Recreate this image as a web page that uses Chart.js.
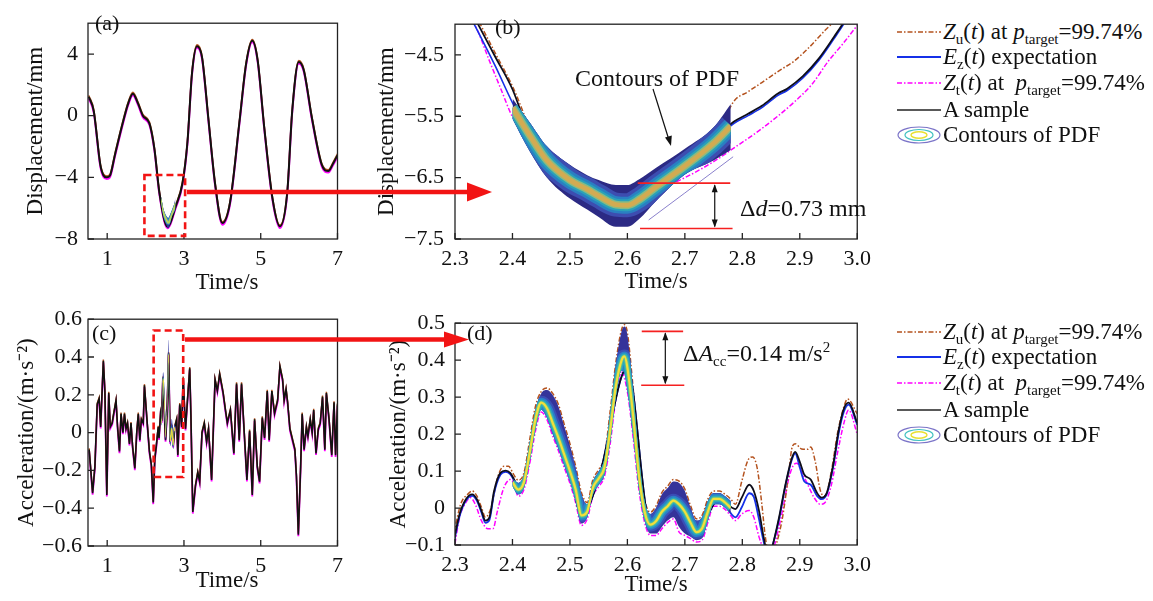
<!DOCTYPE html>
<html>
<head>
<meta charset="utf-8">
<script src="https://cdn.jsdelivr.net/npm/chart.js@4.4.1/dist/chart.umd.min.js"></script>
<style>
body { margin: 0; background: #fff; font-family: "Liberation Serif", "Times New Roman", serif; }
#page { position: relative; width: 1153px; height: 601px; overflow: hidden; background: #fff; }
canvas { position: absolute; }
.t { position: absolute; color: #111; white-space: nowrap; line-height: 26px; font-size: 24px; }
.t sub { font-size: 15px; vertical-align: -5px; line-height: 0; }
.t sup { font-size: 15px; vertical-align: 9px; line-height: 0; }
.xt { position: absolute; color: #111; white-space: nowrap; line-height: 26px; font-size: 23px; transform: translateX(-50%); }
.lg { position: absolute; left: 895px; height: 26px; width: 258px; }
.lg svg { position: absolute; left: 0; top: 0; }
.lg span { position: absolute; left: 48px; top: 0; font-size: 23px; line-height: 26px; color: #111; white-space: nowrap; }
.lg sub { font-size: 15px; vertical-align: -5px; line-height: 0; }
#over { position: absolute; left: 0; top: 0; pointer-events: none; }
</style>
</head>
<body>
<div id="page">
  <canvas id="ca" width="350" height="296" style="left:0;top:0"></canvas>
  <canvas id="cb" width="506" height="296" style="left:372px;top:0"></canvas>
  <canvas id="cc" width="350" height="294" style="left:0;top:300px"></canvas>
  <canvas id="cd" width="506" height="299" style="left:372px;top:300px"></canvas>

  <div class="xt" style="left:227px;top:269px">Time/s</div>
  <div class="xt" style="left:227px;top:567px">Time/s</div>

  <div class="t" style="left:95px;top:10px;font-size:22px">(a)</div>
  <div class="t" style="left:495px;top:14px;font-size:22px">(b)</div>
  <div class="t" style="left:92px;top:320px;font-size:22px">(c)</div>
  <div class="t" style="left:467px;top:320px;font-size:22px">(d)</div>
  <div class="t" style="left:575px;top:65px">Contours of PDF</div>
  <div class="t" style="left:740px;top:195px">Δ<i>d</i>=0.73 mm</div>
  <div class="t" style="left:683px;top:340px">Δ<i>A</i><sub>cc</sub>=0.14 m/s<sup>2</sup></div>

  <div id="legends"></div>

  <svg id="over" width="1153" height="601">
    <line x1="187" y1="192" x2="469" y2="192" stroke="#f21414" stroke-width="4.5"/>
    <polygon points="467,182.5 492,192 467,201.5" fill="#f21414"/>
    <line x1="185" y1="339.5" x2="446" y2="339.5" stroke="#f21414" stroke-width="4.5"/>
    <polygon points="444,331.5 469,339.5 444,347.5" fill="#f21414"/>
    <line x1="653" y1="89" x2="669" y2="140" stroke="#111" stroke-width="1.2"/>
    <polygon points="671,146 665,137.5 671.8,135.6" fill="#111"/>
  </svg>
</div>

<script>
// panel (a): displacement, whole record
const aTicksX = [1, 3, 5, 7];
const aTicksY = [-8, -4, 0, 4];
const aTime = [0.52,0.65,0.82,0.90,0.99,1.07,1.20,1.38,1.55,1.67,1.80,1.93,2.10,2.23,2.36,2.57,2.79,2.96,3.09,3.21,3.34,3.47,3.64,3.81,4.00,4.20,4.45,4.62,4.78,4.92,5.09,5.31,5.50,5.69,5.82,5.99,6.12,6.33,6.59,6.76,6.89,7.00];
const aSample = [1.23,0.30,-3.18,-3.86,-4.00,-3.90,-2.56,-0.72,0.82,1.43,0.82,0.00,-0.50,-2.15,-5.00,-7.20,-5.85,-4.40,-1.74,2.77,4.51,3.80,-0.30,-4.40,-6.97,-5.64,-0.30,3.38,4.86,3.59,-0.72,-5.43,-7.18,-5.00,0.30,3.49,2.97,-0.10,-3.18,-3.59,-3.08,-2.56];

// panel (b): displacement, 2.3-3.0 s
const bTicksX = [2.3, 2.4, 2.5, 2.6, 2.7, 2.8, 2.9, 3.0];
const bTicksY = [-7.5, -6.5, -5.5, -4.5];
const bSampleT = [2.30,2.34,2.37,2.40,2.43,2.46,2.50,2.55,2.58,2.62,2.70,2.785,2.81,2.834,2.862,2.878,2.905,2.933,2.96,2.975,2.99];
const bSample = [-3.30,-4.00,-4.53,-5.06,-5.80,-6.22,-6.54,-6.80,-6.94,-6.86,-6.31,-5.59,-5.46,-5.33,-5.13,-5.05,-4.85,-4.56,-4.20,-3.99,-3.75];
const bMean = [-3.40,-4.12,-4.68,-5.28,-5.81,-6.22,-6.54,-6.80,-6.94,-6.86,-6.31,-5.62,-5.49,-5.36,-5.16,-5.08,-4.88,-4.59,-4.23,-4.02,-3.78];
const bUpperT = [2.30,2.344,2.37,2.40,2.45,2.55,2.65,2.75,2.785,2.81,2.834,2.867,2.889,2.916,2.944,2.955,2.97];
const bUpper = [-3.20,-4.00,-4.47,-5.01,-6.10,-6.80,-6.65,-5.94,-5.26,-5.10,-4.95,-4.74,-4.61,-4.38,-4.10,-4.00,-3.85];
const bLowerT = [2.30,2.333,2.36,2.38,2.40,2.45,2.55,2.65,2.70,2.75,2.785,2.834,2.889,2.922,2.949,2.974,3.00];
const bLower = [-3.75,-3.99,-4.60,-5.06,-5.51,-6.15,-6.80,-6.70,-6.50,-6.24,-6.02,-5.70,-5.28,-4.97,-4.61,-4.33,-4.02];
const bFaintT = [2.637, 2.70, 2.784];
const bFaint = [-7.19, -6.75, -6.16];
// PDF band of displacement (outer contour top/bottom and ridge)
const bandT = [2.40,2.43,2.46,2.50,2.53,2.55,2.58,2.60,2.62,2.65,2.70,2.75,2.78];
const bandUp = [-5.21,-5.60,-5.99,-6.29,-6.46,-6.54,-6.62,-6.62,-6.53,-6.34,-6.03,-5.68,-5.30];
const bandLow = [-5.54,-6.07,-6.50,-6.84,-7.02,-7.14,-7.30,-7.30,-7.18,-6.88,-6.45,-6.22,-6.05];
const bandMid = [-5.36,-5.81,-6.22,-6.54,-6.69,-6.80,-6.94,-6.95,-6.86,-6.65,-6.31,-5.94,-5.66];

// panel (c): acceleration, whole record
const cTicksX = [1, 3, 5, 7];
const cTicksY = [-0.6, -0.4, -0.2, 0, 0.2, 0.4, 0.6];
const cTime = [0.53,0.62,0.68,0.74,0.79,0.83,0.90,0.94,0.99,1.04,1.08,1.13,1.17,1.23,1.27,1.32,1.36,1.41,1.45,1.49,1.53,1.58,1.62,1.66,1.72,1.77,1.81,1.85,1.89,1.94,1.97,2.05,2.10,2.15,2.20,2.24,2.28,2.33,2.35,2.39,2.42,2.45,2.52,2.56,2.60,2.64,2.68,2.72,2.76,2.81,2.84,2.89,2.94,2.98,3.04,3.15,3.18,3.23,3.30,3.36,3.41,3.47,3.53,3.59,3.64,3.72,3.81,3.87,3.93,4.02,4.08,4.13,4.21,4.30,4.37,4.44,4.50,4.57,4.64,4.71,4.78,4.84,4.91,4.97,5.04,5.10,5.17,5.22,5.29,5.36,5.44,5.50,5.57,5.61,5.66,5.70,5.76,5.83,5.89,5.93,5.98,6.04,6.08,6.13,6.19,6.23,6.29,6.34,6.38,6.44,6.50,6.55,6.61,6.67,6.71,6.78,6.85,6.91,6.95,7.00];
const cSample = [-0.09,-0.32,-0.18,0.15,0.18,0.03,0.38,0.22,-0.33,0.21,0.03,0.05,0.10,0.17,0.03,-0.10,0.10,0.00,0.10,0.02,0.05,-0.06,0.05,-0.07,-0.19,0.00,0.10,-0.04,0.07,0.05,0.25,0.03,-0.10,-0.17,-0.37,-0.14,-0.07,0.03,-0.03,0.10,0.06,0.29,-0.04,0.10,0.42,-0.05,0.04,-0.07,0.03,0.07,-0.12,0.15,0.03,0.29,0.02,0.34,0.10,-0.42,-0.28,-0.21,-0.26,0.00,0.05,-0.05,0.02,-0.25,0.28,0.22,0.31,0.21,0.12,0.05,0.12,-0.11,0.26,-0.04,0.26,0.00,-0.25,0.01,-0.33,0.07,-0.18,-0.26,0.08,-0.03,0.22,-0.04,0.22,0.10,0.17,0.35,0.28,0.17,0.23,0.16,0.02,-0.04,-0.09,-0.23,-0.54,-0.18,0.10,-0.09,0.03,-0.02,0.07,0.00,0.12,-0.11,0.02,0.05,0.19,-0.09,0.21,0.07,-0.12,0.16,-0.12,0.15];

// panel (d): acceleration, 2.3-3.0 s
const dTicksX = [2.3, 2.4, 2.5, 2.6, 2.7, 2.8, 2.9, 3.0];
const dTicksY = [-0.1, 0, 0.1, 0.2, 0.3, 0.4, 0.5];
const dSampleT = [2.298,2.308,2.319,2.33,2.338,2.346,2.353,2.36,2.368,2.379,2.388,2.396,2.405,2.41,2.42,2.45,2.50,2.52,2.55,2.60,2.64,2.68,2.72,2.76,2.788,2.799,2.812,2.82,2.829,2.837,2.846,2.853,2.864,2.875,2.886,2.892,2.90,2.908,2.919,2.93,2.938,2.947,2.958,2.968,2.977,2.985,3.0];
const dSample = [-0.087,-0.016,0.024,0.037,0.024,-0.007,-0.034,-0.025,0.046,0.095,0.101,0.095,0.07,0.05,0.07,0.285,0.10,-0.02,0.08,0.38,-0.045,0.02,-0.065,0.025,-0.003,0.028,0.063,0.046,-0.007,-0.078,-0.135,-0.10,-0.025,0.063,0.134,0.152,0.125,0.09,0.077,0.041,0.028,0.041,0.116,0.213,0.27,0.285,0.23];
const dMean = [-0.095,-0.022,0.02,0.033,0.02,-0.012,-0.04,-0.032,0.04,0.09,0.098,0.092,0.068,0.05,0.07,0.285,0.10,-0.02,0.08,0.38,-0.045,0.02,-0.065,0.025,-0.025,0.002,0.04,0.03,-0.03,-0.09,-0.14,-0.10,-0.03,0.06,0.13,0.148,0.11,0.072,0.063,0.033,0.024,0.038,0.11,0.205,0.262,0.28,0.225];
const dUpperT = [2.298,2.31,2.322,2.33,2.338,2.346,2.353,2.363,2.374,2.385,2.393,2.402,2.41,2.42,2.43,2.44,2.45,2.46,2.47,2.48,2.49,2.50,2.51,2.52,2.53,2.54,2.55,2.56,2.57,2.58,2.59,2.595,2.60,2.61,2.62,2.63,2.64,2.65,2.66,2.67,2.68,2.69,2.70,2.71,2.72,2.73,2.74,2.75,2.76,2.77,2.78,2.788,2.799,2.81,2.818,2.826,2.834,2.84,2.85,2.859,2.87,2.881,2.886,2.892,2.903,2.914,2.919,2.927,2.936,2.944,2.955,2.966,2.977,2.983,3.0];
const dUpper = [-0.07,0.011,0.037,0.046,0.033,0.002,-0.025,0.002,0.082,0.113,0.113,0.091,0.075,0.095,0.185,0.275,0.315,0.325,0.31,0.28,0.227,0.174,0.113,0.042,0.015,0.077,0.104,0.139,0.262,0.395,0.483,0.496,0.474,0.324,0.148,0.024,-0.011,0.006,0.042,0.059,0.077,0.073,0.051,0.006,-0.029,-0.02,0.024,0.046,0.046,0.037,0.024,0.01,0.072,0.13,0.138,0.107,0.01,-0.078,-0.15,-0.1,-0.025,0.098,0.16,0.174,0.16,0.159,0.165,0.125,0.046,0.033,0.1,0.205,0.275,0.295,0.255];
const dLowerT = [2.30,2.308,2.319,2.327,2.335,2.346,2.357,2.366,2.374,2.385,2.396,2.402,2.41,2.42,2.43,2.44,2.45,2.46,2.47,2.48,2.49,2.50,2.51,2.52,2.53,2.54,2.55,2.56,2.57,2.58,2.59,2.60,2.61,2.62,2.63,2.64,2.65,2.66,2.67,2.68,2.69,2.70,2.71,2.72,2.73,2.74,2.75,2.76,2.77,2.78,2.788,2.799,2.812,2.82,2.829,2.834,2.845,2.856,2.87,2.881,2.889,2.895,2.903,2.914,2.925,2.936,2.944,2.955,2.966,2.977,2.985,3.0];
const dLower = [-0.096,-0.025,0.015,0.028,0.011,-0.034,-0.056,-0.056,-0.007,0.055,0.077,0.068,0.032,0.05,0.12,0.208,0.26,0.239,0.195,0.155,0.11,0.067,0.014,-0.047,-0.03,0.032,0.058,0.085,0.173,0.297,0.367,0.314,0.191,0.05,-0.039,-0.074,-0.074,-0.056,-0.039,-0.03,-0.065,-0.074,-0.083,-0.092,-0.087,-0.039,0.005,0.005,-0.004,-0.021,-0.034,-0.016,-0.007,-0.025,-0.078,-0.1,-0.14,-0.1,-0.007,0.081,0.116,0.121,0.099,0.063,0.028,0.01,0.015,0.063,0.152,0.231,0.265,0.2];
// PDF band of acceleration
const dBandT = [2.40,2.41,2.42,2.43,2.44,2.45,2.46,2.47,2.48,2.49,2.50,2.51,2.52,2.53,2.54,2.55,2.56,2.57,2.58,2.59,2.595,2.60,2.61,2.62,2.63,2.64,2.65,2.66,2.67,2.68,2.69,2.70,2.71,2.72,2.73,2.74,2.75,2.76,2.77,2.78];
const dBandUp = [0.081,0.068,0.09,0.178,0.266,0.31,0.319,0.306,0.275,0.222,0.169,0.108,0.037,0.01,0.072,0.099,0.134,0.257,0.39,0.478,0.491,0.469,0.319,0.143,0.019,-0.016,0.001,0.037,0.054,0.072,0.068,0.046,0.001,-0.034,-0.025,0.019,0.041,0.041,0.032,0.019];
const dBandLow = [0.059,0.037,0.055,0.125,0.213,0.266,0.244,0.2,0.16,0.116,0.072,0.019,-0.042,-0.025,0.037,0.063,0.09,0.178,0.302,0.372,0.363,0.319,0.196,0.055,-0.034,-0.069,-0.069,-0.051,-0.034,-0.025,-0.051,-0.069,-0.078,-0.087,-0.082,-0.034,0.01,0.01,0.001,-0.016];
const dBandMid = [0.07,0.05,0.07,0.15,0.24,0.285,0.27,0.23,0.19,0.145,0.1,0.05,-0.02,-0.01,0.055,0.08,0.11,0.21,0.33,0.4,0.41,0.38,0.25,0.09,-0.01,-0.045,-0.035,-0.01,0.005,0.02,0.01,-0.01,-0.04,-0.065,-0.055,-0.01,0.025,0.025,0.015,0.0];

const COL = { up: '#b4521e', mean: '#1530e8', low: '#ff00ff', sample: '#000000' };
Chart.defaults.font.family = 'Liberation Serif';
Chart.defaults.color = '#111';

function pts(xs, ys) { return xs.map((x, i) => ({ x, y: ys[i] })); }
function minus(s) { return s.replace('-', '\u2212'); }

function line(data, color, width, dash, extra) {
	return Object.assign({
		data, borderColor: color, borderWidth: width, borderDash: dash || [],
		pointRadius: 0, fill: false, cubicInterpolationMode: 'monotone'
	}, extra || {});
}
function ghost(data) {
	return { data, borderColor: 'rgba(0,0,0,0)', borderWidth: 0, pointRadius: 0, fill: false, cubicInterpolationMode: 'monotone' };
}

// small offset so the envelope lines peek out from under the sample in (a)/(c)
const shiftPlugin = {
	id: 'shift',
	beforeDatasetDraw(chart, args) {
		const s = chart.data.datasets[args.index].shiftY;
		if (s) { chart.ctx.save(); chart.ctx.translate(0, s); }
	},
	afterDatasetDraw(chart, args) {
		if (chart.data.datasets[args.index].shiftY) chart.ctx.restore();
	}
};

// coloured PDF band: clip between outer contours, stroke ridge in layers
const bandPlugin = {
	id: 'pdfBand',
	afterDatasetsDraw(chart, args, o) {
		if (!o || o.up == null) return;
		const ctx = chart.ctx, area = chart.chartArea;
		const up = chart.getDatasetMeta(o.up).dataset;
		const lo = chart.getDatasetMeta(o.low).dataset;
		const mid = chart.getDatasetMeta(o.mid).dataset;
		[up, lo, mid].forEach(l => l.updateControlPoints(area, 'x'));
		const p = up.points, x0 = p[0].x, x1 = p[p.length - 1].x;
		ctx.save();
		ctx.beginPath(); ctx.rect(area.left, area.top, area.width, area.height); ctx.clip();
		ctx.beginPath(); up.path(ctx); ctx.lineTo(x1, area.bottom + 600); ctx.lineTo(x0, area.bottom + 600); ctx.closePath(); ctx.clip();
		ctx.beginPath(); lo.path(ctx); ctx.lineTo(x1, area.top - 600); ctx.lineTo(x0, area.top - 600); ctx.closePath(); ctx.clip();
		ctx.fillStyle = o.fill;
		ctx.fillRect(x0, area.top - 600, x1 - x0, area.height + 1200);
		ctx.lineJoin = 'round';
		o.strokes.forEach(s => {
			ctx.beginPath(); mid.path(ctx);
			ctx.lineWidth = s[0]; ctx.strokeStyle = s[1]; ctx.stroke();
		});
		ctx.restore();
	}
};

// frame, inward ticks, dashed zoom box, red level lines, double arrow
const marksPlugin = {
	id: 'marks',
	afterDraw(chart, args, o) {
		const { ctx, chartArea: a } = chart;
		const x = chart.scales.x, y = chart.scales.y;
		ctx.save();
		ctx.strokeStyle = '#222'; ctx.lineWidth = 1.3;
		ctx.strokeRect(a.left, a.top, a.width, a.height);
		ctx.beginPath();
		x.ticks.forEach(t => { const px = x.getPixelForValue(t.value); ctx.moveTo(px, a.bottom); ctx.lineTo(px, a.bottom - 6); });
		y.ticks.forEach(t => { const py = y.getPixelForValue(t.value); ctx.moveTo(a.left, py); ctx.lineTo(a.left + 6, py); });
		ctx.stroke();
		if (o.box) {
			const bx0 = x.getPixelForValue(o.box[0]), bx1 = x.getPixelForValue(o.box[1]);
			const by0 = y.getPixelForValue(o.box[2]), by1 = y.getPixelForValue(o.box[3]);
			ctx.setLineDash([7, 4]); ctx.strokeStyle = '#f21414'; ctx.lineWidth = 2.6;
			ctx.strokeRect(bx0, by0, bx1 - bx0, by1 - by0);
			ctx.setLineDash([]);
		}
		(o.levels || []).forEach(l => {
			ctx.strokeStyle = '#f52020'; ctx.lineWidth = 1.6;
			ctx.beginPath();
			ctx.moveTo(x.getPixelForValue(l.x0), y.getPixelForValue(l.y));
			ctx.lineTo(x.getPixelForValue(l.x1), y.getPixelForValue(l.y));
			ctx.stroke();
		});
		if (o.gap) {
			const gx = x.getPixelForValue(o.gap.x), g0 = y.getPixelForValue(o.gap.y0), g1 = y.getPixelForValue(o.gap.y1);
			ctx.strokeStyle = '#111'; ctx.fillStyle = '#111'; ctx.lineWidth = 1.2;
			ctx.beginPath(); ctx.moveTo(gx, g0 + 2); ctx.lineTo(gx, g1 - 2); ctx.stroke();
			ctx.beginPath(); ctx.moveTo(gx, g0 + 1); ctx.lineTo(gx - 3, g0 + 9); ctx.lineTo(gx + 3, g0 + 9); ctx.fill();
			ctx.beginPath(); ctx.moveTo(gx, g1 - 1); ctx.lineTo(gx - 3, g1 - 9); ctx.lineTo(gx + 3, g1 - 9); ctx.fill();
		}
		ctx.restore();
	}
};

function makeChart(id, c) {
	return new Chart(document.getElementById(id), {
		type: 'line',
		data: { datasets: c.datasets },
		options: {
			responsive: false, animation: false, devicePixelRatio: 1,
			layout: { padding: c.pad },
			plugins: {
				legend: { display: false }, tooltip: { enabled: false },
				pdfBand: c.band || {}, marks: c.marks || {}
			},
			scales: {
				x: {
					type: 'linear', min: c.xmin, max: c.xmax,
					grid: { display: false, drawTicks: false }, border: { display: false },
					afterBuildTicks: s => { s.ticks = c.xticks.map(v => ({ value: v })); },
					afterFit: s => { s.height = c.xh; },
					ticks: { font: { size: 22 }, color: '#111', padding: 7, maxRotation: 0, autoSkip: false, callback: c.xfmt },
					// (a)/(c) put "Time/s" off-centre, so those two are html text
					title: { display: !c.htmlXTitle, text: 'Time/s', font: { size: 23 }, color: '#111', padding: 0 }
				},
				y: {
					type: 'linear', min: c.ymin, max: c.ymax,
					grid: { display: false, drawTicks: false }, border: { display: false },
					afterBuildTicks: s => { s.ticks = c.yticks.map(v => ({ value: v })); },
					afterFit: s => { s.width = c.yw; },
					ticks: { font: { size: 22 }, color: '#111', padding: c.ypad, autoSkip: false, callback: c.yfmt },
					title: { display: true, text: c.ytitle, font: { size: 23 }, color: '#111', padding: 0 }
				}
			}
		},
		plugins: [shiftPlugin, bandPlugin, marksPlugin]
	});
}

const fmtInt = v => minus(String(v));
const fmt1 = v => minus(v.toFixed(1));
const fmtAcc = v => v === 0 ? '0' : minus(v.toFixed(1));

makeChart('ca', {
	pad: { left: 22, top: 11, right: 8, bottom: 0 }, xh: 57, yw: 66, ypad: 10, htmlXTitle: true,
	xmin: 0.5, xmax: 7, ymin: -8, ymax: 6, xticks: aTicksX, yticks: aTicksY,
	xfmt: fmtInt, yfmt: fmtInt, ytitle: 'Displacement/mm',
	datasets: [
		line(pts(aTime, aSample), '#111', 2),
		line(pts(aTime, aSample), COL.up, 1.6, [], { shiftY: -1.3 }),
		line(pts(aTime, aSample), COL.low, 2, [], { shiftY: 1.6 }),
		ghost(pts(bandT, bandUp)), ghost(pts(bandT, bandLow)), ghost(pts(bandT, bandMid))
	],
	band: { up: 3, low: 4, mid: 5, fill: '#2a3590', strokes: [[4, '#2f86d0'], [2, '#b7d35a']] },
	marks: { box: [1.97, 3.03, -3.85, -7.8] }
});

makeChart('cb', {
	pad: { left: 1, top: 12, right: 10, bottom: 0 }, xh: 57, yw: 82, ypad: 11,
	xmin: 2.3, xmax: 3.0, ymin: -7.5, ymax: -4.0, xticks: bTicksX, yticks: bTicksY,
	xfmt: fmt1, yfmt: fmt1, ytitle: 'Displacement/mm',
	datasets: [
		line(pts(bSampleT, bSample), '#0d0d1a', 1.8),
		line(pts(bSampleT, bMean), COL.mean, 1.6),
		line(pts(bUpperT, bUpper), COL.up, 1.5, [5, 2, 1.5, 2]),
		line(pts(bLowerT, bLower), COL.low, 1.5, [5, 2, 1.5, 2]),
		line(pts(bFaintT, bFaint), '#8a80cc', 1),
		ghost(pts(bandT, bandUp)), ghost(pts(bandT, bandLow)), ghost(pts(bandT, bandMid))
	],
	band: { up: 5, low: 6, mid: 7, fill: '#2c2a84',
		strokes: [[24, '#3d4db0'], [17, '#2a7fc2'], [12, '#2aa2b8'], [8, '#86bb84'], [5, '#d2ab52']] },
	marks: {
		levels: [{ x0: 2.618, x1: 2.779, y: -6.59 }, { x0: 2.622, x1: 2.783, y: -7.33 }],
		gap: { x: 2.752, y0: -6.59, y1: -7.33 }
	}
});

makeChart('cc', {
	pad: { left: 13, top: 18, right: 8, bottom: 0 }, xh: 48, yw: 75, ypad: 6, htmlXTitle: true,
	xmin: 0.5, xmax: 7, ymin: -0.6, ymax: 0.6, xticks: cTicksX, yticks: cTicksY,
	xfmt: fmtInt, yfmt: fmtAcc, ytitle: 'Acceleration/(m\u00b7s\u207b\u00b2)',
	datasets: [
		line(pts(cTime, cSample), '#111', 1.6, [], { cubicInterpolationMode: 'default', tension: 0 }),
		line(pts(cTime, cSample), COL.up, 1.4, [], { cubicInterpolationMode: 'default', tension: 0, shiftY: -1.2 }),
		line(pts(cTime, cSample), COL.low, 1.8, [], { cubicInterpolationMode: 'default', tension: 0, shiftY: 1.6 }),
		ghost(pts(dBandT, dBandUp)), ghost(pts(dBandT, dBandLow)), ghost(pts(dBandT, dBandMid))
	],
	band: { up: 3, low: 4, mid: 5, fill: '#3a40a8', strokes: [[3, '#2b90c8'], [1.5, '#e8d840']] },
	marks: { box: [2.21, 2.98, 0.54, -0.235] }
});

makeChart('cd', {
	pad: { left: 13, top: 18, right: 10, bottom: 0 }, xh: 54, yw: 70, ypad: 10,
	xmin: 2.3, xmax: 3.0, ymin: -0.1, ymax: 0.5, xticks: dTicksX, yticks: dTicksY,
	xfmt: fmt1, yfmt: fmtAcc, ytitle: 'Acceleration/(m\u00b7s\u207b\u00b2)',
	datasets: [
		line(pts(dSampleT, dSample), '#0d0d1a', 1.8),
		line(pts(dSampleT, dMean), COL.mean, 1.8),
		line(pts(dUpperT, dUpper), COL.up, 1.5, [5, 2, 1.5, 2]),
		line(pts(dLowerT, dLower), COL.low, 1.5, [5, 2, 1.5, 2]),
		ghost(pts(dBandT, dBandUp)), ghost(pts(dBandT, dBandLow)), ghost(pts(dBandT, dBandMid))
	],
	band: { up: 4, low: 5, mid: 6, fill: '#35339a',
		strokes: [[14, '#3a4db5'], [10, '#2b7ec8'], [6.5, '#29a9bd'], [4, '#64c08a'], [2.2, '#f3e03a']] },
	marks: {
		levels: [{ x0: 2.625, x1: 2.697, y: 0.478 }, { x0: 2.624, x1: 2.699, y: 0.332 }],
		gap: { x: 2.666, y0: 0.478, y1: 0.332 }
	}
});

// legends (same for both rows of panels)
function legendHtml(top) {
	const dash = '5 2 1.5 2';
	const rows = [
		['<line x1="2" y1="13" x2="46" y2="13" stroke="' + COL.up + '" stroke-width="1.5" stroke-dasharray="' + dash + '"/>',
			'<i>Z</i><sub>u</sub>(<i>t</i>) at <i>p</i><sub>target</sub>=99.74%'],
		['<line x1="2" y1="13" x2="46" y2="13" stroke="' + COL.mean + '" stroke-width="2.2"/>',
			'<i>E</i><sub>z</sub>(<i>t</i>) expectation'],
		['<line x1="2" y1="13" x2="46" y2="13" stroke="' + COL.low + '" stroke-width="1.5" stroke-dasharray="' + dash + '"/>',
			'<i>Z</i><sub>t</sub>(<i>t</i>) at &nbsp;<i>p</i><sub>target</sub>=99.74%'],
		['<line x1="2" y1="13" x2="46" y2="13" stroke="#222" stroke-width="1.6"/>', 'A sample'],
		['<ellipse cx="24" cy="13" rx="21" ry="8" fill="none" stroke="#7b74c8" stroke-width="1.2"/>' +
			'<ellipse cx="24" cy="13" rx="14" ry="5.5" fill="none" stroke="#40c0c0" stroke-width="1.2"/>' +
			'<ellipse cx="24" cy="13" rx="8" ry="3.2" fill="none" stroke="#e8e030" stroke-width="1.4"/>', 'Contours of PDF']
	];
	const ys = [32, 57, 83, 110, 135];
	return rows.map((r, i) =>
		'<div class="lg" style="top:' + (top + ys[i] - 13) + 'px"><svg width="48" height="26">' + r[0] + '</svg><span>' + r[1] + '</span></div>'
	).join('');
}
document.getElementById('legends').innerHTML = legendHtml(0) + legendHtml(300);
</script>
</body>
</html>
